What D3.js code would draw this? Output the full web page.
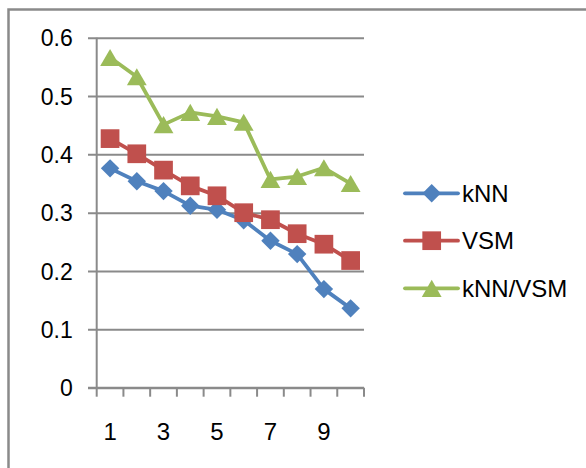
<!DOCTYPE html>
<html>
<head>
<meta charset="utf-8">
<script src="https://cdn.jsdelivr.net/npm/d3@7"></script>
<style>
  html, body { margin: 0; padding: 0; background: #fff; }
  svg { display: block; }
  text { font-family: "Liberation Sans", Arial, sans-serif; fill: #000; }
</style>
</head>
<body>
<svg id="chart" width="586" height="468"></svg>
<script>
// Categories along the x axis and the three series
const categories = [1, 2, 3, 4, 5, 6, 7, 8, 9, 10];
const xTickLabels = [1, 3, 5, 7, 9];
const yTicks = [0, 0.1, 0.2, 0.3, 0.4, 0.5, 0.6];
const seriesNames = ["kNN", "VSM", "kNN/VSM"];
const knn = [0.376, 0.354, 0.337, 0.312, 0.305, 0.287, 0.252, 0.229, 0.169, 0.136];
const vsm = [0.427, 0.401, 0.373, 0.346, 0.329, 0.300, 0.288, 0.264, 0.246, 0.218];
const knnVsm = [0.566, 0.533, 0.451, 0.472, 0.465, 0.455, 0.357, 0.362, 0.377, 0.350];
const colors = ["#4F81BD", "#C0504D", "#9BBB59"];
const markerTypes = ["diamond", "square", "triangle"];

const series = [knn, vsm, knnVsm].map((vals, i) => ({
  name: seriesNames[i], values: vals, color: colors[i], marker: markerTypes[i]
}));

// Marker path and offset for each marker type (triangle centred on its bounding box)
function markerPath(type) {
  if (type === "square") return d3.symbol().type(d3.symbolSquare).size(350)();
  if (type === "diamond") return d3.symbol().type(d3.symbolSquare).size(170)();
  return d3.symbol().type(d3.symbolTriangle).size(170)();
}
function markerTransform(type, cx, cy) {
  if (type === "diamond") return `translate(${cx},${cy}) rotate(45)`;
  if (type === "triangle") return `translate(${cx},${cy + 2.86})`;
  return `translate(${cx},${cy})`;
}

const svg = d3.select("#chart");
const plot = { left: 96.7, right: 364, top: 37.7, bottom: 387.7 };
const gray = "#8a8a8a";

// Outer frame
svg.append("rect")
  .attr("x", 8.5).attr("y", 9.5)
  .attr("width", 600).attr("height", 480)
  .attr("fill", "none").attr("stroke", gray).attr("stroke-width", 2.5);

const x = d3.scaleBand().domain(categories).range([plot.left, plot.right]).padding(0);
const y = d3.scaleLinear().domain([0, 0.6]).range([plot.bottom, plot.top]);

// Horizontal gridlines with outward ticks on the value axis
const yAxis = d3.axisLeft(y).tickValues(yTicks)
  .tickSize(-(plot.right - plot.left)).tickSizeOuter(0)
  .tickFormat(d => d === 0 ? "0" : d3.format(".1f")(d)).tickPadding(24);
const gy = svg.append("g").attr("transform", `translate(${plot.left},0)`).call(yAxis);
gy.select(".domain").remove();
gy.selectAll(".tick line").attr("stroke", gray).attr("stroke-width", 2)
  .attr("x1", -8.7);
gy.selectAll(".tick text").attr("font-size", 23).attr("dy", "0.36em")
  .attr("font-family", "Liberation Sans, Arial, sans-serif").attr("fill", "#000");

// Vertical value axis line
svg.append("line")
  .attr("x1", plot.left).attr("x2", plot.left)
  .attr("y1", plot.top).attr("y2", plot.bottom)
  .attr("stroke", gray).attr("stroke-width", 2);

// Category axis with tick marks at the band boundaries
const boundaries = categories.map(c => x(c)).concat([x(categories[categories.length - 1]) + x.bandwidth()]);
svg.append("line")
  .attr("x1", plot.left - 8.7).attr("x2", plot.right)
  .attr("y1", plot.bottom).attr("y2", plot.bottom)
  .attr("stroke", gray).attr("stroke-width", 2);
svg.append("g").selectAll("line").data(boundaries).join("line")
  .attr("x1", d => d).attr("x2", d => d)
  .attr("y1", plot.bottom).attr("y2", plot.bottom + 9)
  .attr("stroke", gray).attr("stroke-width", 2);
svg.append("g").selectAll("text").data(xTickLabels).join("text")
  .attr("x", d => x(d) + x.bandwidth() / 2)
  .attr("y", 439.5)
  .attr("text-anchor", "middle")
  .attr("font-size", 24)
  .text(d => d);

// Series lines and markers
const line = d3.line()
  .x((d, i) => x(categories[i]) + x.bandwidth() / 2)
  .y(d => y(d));

series.forEach(s => {
  const g = svg.append("g");
  g.append("path").datum(s.values)
    .attr("d", line).attr("fill", "none")
    .attr("stroke", s.color).attr("stroke-width", 3.8)
    .attr("stroke-linejoin", "round").attr("stroke-linecap", "round");
  g.selectAll("path.m").data(s.values).join("path")
    .attr("class", "m")
    .attr("d", markerPath(s.marker))
    .attr("transform", (d, i) => markerTransform(s.marker, x(categories[i]) + x.bandwidth() / 2, y(d)))
    .attr("fill", s.color);
});

// Legend
const legendY = [193.3, 240.7, 288.3];
series.forEach((s, i) => {
  const g = svg.append("g").attr("transform", `translate(0,${legendY[i]})`);
  g.append("line").attr("x1", 405).attr("x2", 458).attr("y1", 0).attr("y2", 0)
    .attr("stroke", s.color).attr("stroke-width", 3.8).attr("stroke-linecap", "round");
  g.append("path")
    .attr("d", markerPath(s.marker))
    .attr("transform", markerTransform(s.marker, 431.7, 0))
    .attr("fill", s.color);
  g.append("text").attr("x", 462).attr("y", 0).attr("dy", "0.36em")
    .attr("font-size", 24).text(s.name);
});
</script>
</body>
</html>
